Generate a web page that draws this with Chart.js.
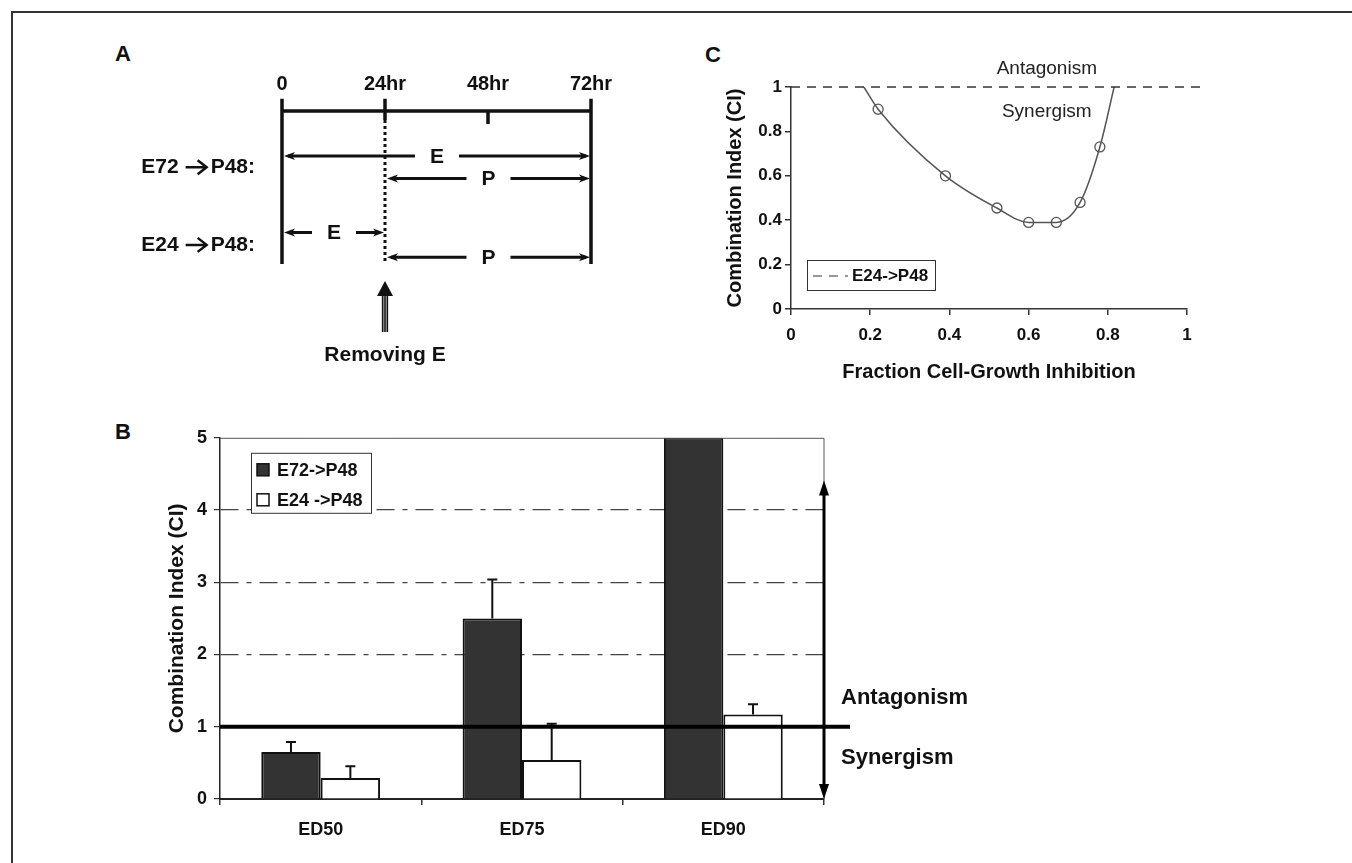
<!DOCTYPE html>
<html lang="en">
<head>
  <meta charset="UTF-8" />
  <title>Combination index of E and P schedules</title>
  <script src="https://cdn.jsdelivr.net/npm/chart.js"></script>
  <style>
    body {
      margin: 0;
      width: 1352px;
      height: 863px;
      position: relative;
      overflow: hidden;
      background: #fff;
      font-family: 'Liberation Sans', Arial, sans-serif;
    }
    .frame {
      position: absolute;
      left: 11px; top: 11px; right: -10px; bottom: -10px;
      border-top: 2px solid #333;
      border-left: 2px solid #333;
    }
    canvas { position: absolute; }
    .letter {
      position: absolute;
      font-size: 22px;
      font-weight: bold;
      line-height: 22px;
      color: #111;
    }
  </style>
</head>
<body>
  <div class="frame"></div>

  <div class="letter" style="left:115px; top:43px;">A</div>
  <div class="letter" style="left:115px; top:421px;">B</div>
  <div class="letter" style="left:705px; top:44px;">C</div>

  <!-- A: treatment schedule -->
  <canvas id="schedule" width="560" height="340" style="left:100px; top:40px;"></canvas>
  <!-- B: CI at ED50/75/90 -->
  <canvas id="ciBars" width="910" height="440" style="left:100px; top:420px;"></canvas>
  <!-- C: Fa-CI plot -->
  <canvas id="ciCurve" width="560" height="360" style="left:700px; top:40px;"></canvas>

  <script>
    // panel A: schedule (hours)
    const timePoints = [0, 24, 48, 72];
    const timeLabels = ['0', '24hr', '48hr', '72hr'];
    const scheduleFirst = ['E72', 'E24'];
    const scheduleThen = ['P48:', 'P48:'];
    const scheduleLanes = [1.25, 2.975];
    const exposureDrug = ['E', 'P', 'E', 'P'];
    const exposureStart = [0, 24, 0, 24];
    const exposureEnd = [72, 72, 24, 72];
    const exposureLane = [1, 1.5, 2.7, 3.25];
    const removalTime = 24;

    // panel B: combination index at effect levels
    const doseLevels = ['ED50', 'ED75', 'ED90'];
    const ciE72 = [0.65, 2.5, 5.0];
    const ciE72Err = [0.14, 0.54, null];
    const ciE24 = [0.29, 0.54, 1.17];
    const ciE24Err = [0.165, 0.5, 0.14];

    // panel C: CI vs fraction affected (E24->P48)
    const fractionAffected = [0.22, 0.39, 0.52, 0.60, 0.67, 0.73, 0.78];
    const ciFa = [0.90, 0.60, 0.455, 0.39, 0.39, 0.48, 0.73];
    const curveEnds = [0.184, 0.816]; // fitted curve crosses CI = 1 here

    Chart.defaults.font.family = "'Liberation Sans', Arial, sans-serif";
    Chart.defaults.color = '#111';
    Chart.defaults.animation = false;
    Chart.defaults.plugins.legend.display = false;
    Chart.defaults.plugins.tooltip.enabled = false;

    const bold = s => "bold " + s + "px 'Liberation Sans', Arial, sans-serif";
    const shortNum = v => (v === 0 || v === 1) ? String(v) : v.toFixed(1);

    // ---------------- A ----------------
    const laneTop = -0.27, laneBottom = 3.4;
    const seg = (x1, y1, x2, y2, extra) => Object.assign({
      data: [{ x: x1, y: y1 }, { x: x2, y: y2 }],
      showLine: true, pointRadius: 0, borderColor: '#111', borderWidth: 3.5, clip: false
    }, extra || {});

    function arrowHead(ctx, tipX, tipY, dir) {
      ctx.beginPath();
      ctx.moveTo(tipX, tipY);
      ctx.lineTo(tipX + dir * 11, tipY - 4);
      ctx.lineTo(tipX + dir * 8, tipY);
      ctx.lineTo(tipX + dir * 11, tipY + 4);
      ctx.closePath();
      ctx.fill();
    }

    const scheduleMarks = {
      id: 'scheduleMarks',
      afterDatasetsDraw(chart) {
        const { ctx, scales: { x, y } } = chart;
        ctx.save();
        ctx.fillStyle = '#111';
        ctx.strokeStyle = '#111';
        ctx.textAlign = 'center';
        ctx.textBaseline = 'middle';

        // time labels
        ctx.font = bold(20);
        timePoints.forEach((t, i) => ctx.fillText(timeLabels[i], x.getPixelForValue(t), y.getPixelForValue(-0.6)));

        // schedule names: "E72 -> P48:"
        ctx.font = bold(21);
        scheduleFirst.forEach((first, i) => {
          const cy = y.getPixelForValue(scheduleLanes[i]);
          const end = x.getPixelForValue(0) - 27;
          ctx.textAlign = 'right';
          ctx.fillText(scheduleThen[i], end, cy);
          const start = end - ctx.measureText(scheduleThen[i]).width;
          const a1 = start - 25, a2 = start - 4;
          ctx.lineWidth = 2.5;
          ctx.beginPath();
          ctx.moveTo(a1, cy); ctx.lineTo(a2 - 2, cy);
          ctx.moveTo(a2 - 9, cy - 7); ctx.lineTo(a2, cy); ctx.lineTo(a2 - 9, cy + 7);
          ctx.stroke();
          ctx.fillText(first, a1 - 7, cy);
        });

        // exposure arrows
        ctx.textAlign = 'center';
        ctx.font = bold(21);
        exposureDrug.forEach((d, i) => {
          const x1 = x.getPixelForValue(exposureStart[i]) + 2;
          const x2 = x.getPixelForValue(exposureEnd[i]) - 1;
          const yy = y.getPixelForValue(exposureLane[i]);
          const mid = (x1 + x2) / 2;
          ctx.lineWidth = 3;
          ctx.beginPath();
          ctx.moveTo(x1 + 4, yy); ctx.lineTo(mid - 22, yy);
          ctx.moveTo(mid + 22, yy); ctx.lineTo(x2 - 4, yy);
          ctx.stroke();
          arrowHead(ctx, x1, yy, 1);
          arrowHead(ctx, x2, yy, -1);
          ctx.fillText(d, mid, yy + 1);
        });

        // removal arrow
        const rx = x.getPixelForValue(removalTime);
        const tip = y.getPixelForValue(3.78);
        ctx.beginPath();
        ctx.moveTo(rx, tip); ctx.lineTo(rx - 8, tip + 15); ctx.lineTo(rx + 8, tip + 15);
        ctx.closePath();
        ctx.fill();
        ctx.fillStyle = '#999';
        ctx.fillRect(rx - 3, tip + 15, 6, 36);
        ctx.lineWidth = 1.3;
        ctx.beginPath();
        [-2.5, 0, 2.5].forEach(dx => { ctx.moveTo(rx + dx, tip + 15); ctx.lineTo(rx + dx, tip + 51); });
        ctx.stroke();
        ctx.fillStyle = '#111';
        ctx.font = bold(21);
        ctx.fillText('Removing E', rx, tip + 74);
        ctx.restore();
      }
    };

    new Chart(document.getElementById('schedule'), {
      type: 'scatter',
      data: {
        datasets: [
          seg(timePoints[0], 0, timePoints[3], 0),
          seg(timePoints[0], laneTop, timePoints[0], laneBottom),
          seg(timePoints[3], laneTop, timePoints[3], laneBottom),
          seg(timePoints[1], laneTop, timePoints[1], 0.2),
          seg(timePoints[2], 0, timePoints[2], 0.29),
          seg(removalTime, 0.2, removalTime, laneBottom, { borderDash: [3, 3], borderWidth: 3 })
        ]
      },
      options: {
        responsive: false,
        layout: { padding: { left: 182, right: 69, top: 57.5, bottom: 113.75 } },
        scales: {
          x: { type: 'linear', min: 0, max: 72, display: false },
          y: { type: 'linear', min: -0.3, max: 3.45, reverse: true, display: false }
        }
      },
      plugins: [scheduleMarks]
    });

    // ---------------- B ----------------
    const barExtras = {
      id: 'barExtras',
      afterDatasetsDraw(chart) {
        const { ctx, chartArea: a, scales: { y } } = chart;
        ctx.save();
        // plot frame (top/right)
        ctx.strokeStyle = '#555';
        ctx.lineWidth = 1;
        ctx.beginPath();
        ctx.moveTo(a.left, a.top + 0.5); ctx.lineTo(a.right, a.top + 0.5); ctx.lineTo(a.right, a.bottom);
        ctx.stroke();

        // error bars (upper only)
        ctx.strokeStyle = '#111';
        ctx.lineWidth = 2;
        chart.data.datasets.forEach((ds, i) => {
          chart.getDatasetMeta(i).data.forEach((bar, j) => {
            const e = ds.errors[j];
            if (e == null) return;
            const top = y.getPixelForValue(ds.data[j] + e);
            ctx.beginPath();
            ctx.moveTo(bar.x, bar.y); ctx.lineTo(bar.x, top);
            ctx.moveTo(bar.x - 5, top); ctx.lineTo(bar.x + 5, top);
            ctx.stroke();
          });
        });

        // CI = 1 reference line
        const y1 = y.getPixelForValue(1);
        ctx.strokeStyle = '#000';
        ctx.lineWidth = 4;
        ctx.beginPath();
        ctx.moveTo(a.left, y1); ctx.lineTo(a.right + 26, y1);
        ctx.stroke();

        // double arrow
        const ax = a.right;
        const yTop = y.getPixelForValue(4.41), yBot = y.getPixelForValue(0);
        ctx.lineWidth = 3;
        ctx.beginPath();
        ctx.moveTo(ax, yTop + 10); ctx.lineTo(ax, yBot - 10);
        ctx.stroke();
        ctx.fillStyle = '#000';
        [[yTop, 1], [yBot, -1]].forEach(([tip, dir]) => {
          ctx.beginPath();
          ctx.moveTo(ax, tip);
          ctx.lineTo(ax - 5, tip + dir * 15);
          ctx.lineTo(ax + 5, tip + dir * 15);
          ctx.closePath();
          ctx.fill();
        });

        ctx.fillStyle = '#111';
        ctx.font = bold(22);
        ctx.textAlign = 'left';
        ctx.textBaseline = 'middle';
        ctx.fillText('Antagonism', a.right + 17, y.getPixelForValue(1.4));
        ctx.fillText('Synergism', a.right + 17, y.getPixelForValue(0.57));

        // legend
        const lx = a.left + 31, ly = a.top + 15;
        ctx.fillStyle = '#fff';
        ctx.fillRect(lx, ly, 120, 60);
        ctx.strokeStyle = '#333';
        ctx.lineWidth = 1;
        ctx.strokeRect(lx + 0.5, ly + 0.5, 120, 60);
        ctx.font = bold(18);
        chart.data.datasets.forEach((ds, i) => {
          const cy = ly + 17 + i * 30;
          ctx.fillStyle = ds.backgroundColor;
          ctx.fillRect(lx + 6, cy - 6, 12, 12);
          ctx.strokeStyle = '#111';
          ctx.lineWidth = 1.5;
          ctx.strokeRect(lx + 6, cy - 6, 12, 12);
          ctx.fillStyle = '#111';
          ctx.fillText(ds.label, lx + 26, cy + 1);
        });
        ctx.restore();
      }
    };

    new Chart(document.getElementById('ciBars'), {
      type: 'bar',
      data: {
        labels: doseLevels,
        datasets: [
          { label: 'E72->P48', data: ciE72, errors: ciE72Err, backgroundColor: '#333', borderColor: '#111', borderWidth: 2 },
          { label: 'E24 ->P48', data: ciE24, errors: ciE24Err, backgroundColor: '#fff', borderColor: '#111', borderWidth: 2 }
        ]
      },
      options: {
        responsive: false,
        datasets: { bar: { categoryPercentage: 0.59, barPercentage: 1 } },
        layout: { padding: { left: 0, top: 17, right: 186, bottom: 0 } },
        scales: {
          x: {
            grid: { offset: true, drawOnChartArea: false, tickLength: 6, tickColor: '#333', lineWidth: 1.5 },
            border: { color: '#222', width: 2 },
            ticks: { font: { size: 18, weight: 'bold' }, padding: 14 },
            afterFit(s) { s.height = 61; }
          },
          y: {
            min: 0, max: 5,
            ticks: { stepSize: 1, font: { size: 18, weight: 'bold' }, padding: 7 },
            grid: {
              color: c => [2, 3, 4].includes(c.tick.value) ? '#444' : 'rgba(0,0,0,0)',
              tickColor: '#333', tickLength: 6, lineWidth: 1.2
            },
            border: { color: '#222', width: 1.5, dash: [18, 8, 5, 8] },
            title: { display: true, text: 'Combination Index (CI)', font: { size: 21, weight: 'bold' }, padding: { top: 65 } },
            afterFit(s) { s.width = 120; }
          }
        }
      },
      plugins: [barExtras]
    });

    // ---------------- C ----------------
    const faPoints = fractionAffected.map((f, i) => ({ x: f, y: ciFa[i] }));
    const faCurve = [{ x: curveEnds[0], y: 1 }, ...faPoints, { x: curveEnds[1], y: 1 }];

    const curveExtras = {
      id: 'curveExtras',
      afterDatasetsDraw(chart) {
        const { ctx, chartArea: a, scales: { x, y } } = chart;
        ctx.save();
        ctx.fillStyle = '#222';
        ctx.textAlign = 'center';
        ctx.textBaseline = 'middle';
        ctx.font = "19px 'Liberation Sans', Arial, sans-serif";
        ctx.fillText('Antagonism', x.getPixelForValue(0.646), y.getPixelForValue(1) - 18);
        ctx.fillText('Synergism', x.getPixelForValue(0.646), y.getPixelForValue(1) + 25);

        // legend
        const lx = a.left + 16, ly = a.bottom - 49;
        ctx.fillStyle = '#fff';
        ctx.fillRect(lx, ly, 128, 30);
        ctx.strokeStyle = '#333';
        ctx.lineWidth = 1;
        ctx.strokeRect(lx + 0.5, ly + 0.5, 128, 30);
        ctx.strokeStyle = '#777';
        ctx.lineWidth = 1.3;
        ctx.setLineDash([9, 7]);
        ctx.beginPath();
        ctx.moveTo(lx + 6, ly + 16); ctx.lineTo(lx + 41, ly + 16);
        ctx.stroke();
        ctx.setLineDash([]);
        ctx.fillStyle = '#111';
        ctx.font = bold(17);
        ctx.textAlign = 'left';
        ctx.fillText(chart.data.datasets[2].label, lx + 45, ly + 16);
        ctx.restore();
      }
    };

    new Chart(document.getElementById('ciCurve'), {
      type: 'scatter',
      data: {
        datasets: [
          { label: 'CI = 1', data: [{ x: 0, y: 1 }, { x: 1.04, y: 1 }], showLine: true, pointRadius: 0,
            borderColor: '#333', borderWidth: 1.5, borderDash: [9, 7], clip: false },
          { label: 'fit', data: faCurve, showLine: true, pointRadius: 0,
            borderColor: '#555', borderWidth: 1.5, cubicInterpolationMode: 'monotone' },
          { label: 'E24->P48', data: faPoints, showLine: false, pointRadius: 5,
            pointBackgroundColor: '#fff', pointBorderColor: '#555', pointBorderWidth: 1.3 }
        ]
      },
      options: {
        responsive: false,
        layout: { padding: { left: 0, top: 47, right: 73, bottom: 0 } },
        scales: {
          x: {
            type: 'linear', min: 0, max: 1,
            ticks: { stepSize: 0.2, font: { size: 17, weight: 'bold' }, padding: 10, callback: shortNum },
            grid: { drawOnChartArea: false, tickLength: 6, tickColor: '#333', lineWidth: 1.5 },
            border: { color: '#333', width: 1.5 },
            title: { display: true, text: 'Fraction Cell-Growth Inhibition', font: { size: 20, weight: 'bold' }, padding: { bottom: 16 } },
            afterFit(s) { s.height = 91; }
          },
          y: {
            min: 0, max: 1,
            ticks: { stepSize: 0.2, font: { size: 17, weight: 'bold' }, padding: 3, callback: shortNum },
            grid: { drawOnChartArea: false, tickLength: 6, tickColor: '#333', lineWidth: 1.5 },
            border: { color: '#333', width: 1.5 },
            title: { display: true, text: 'Combination Index (CI)', font: { size: 20, weight: 'bold' }, padding: { top: 23 } },
            afterFit(s) { s.width = 91; }
          }
        }
      },
      plugins: [curveExtras]
    });
  </script>
</body>
</html>
